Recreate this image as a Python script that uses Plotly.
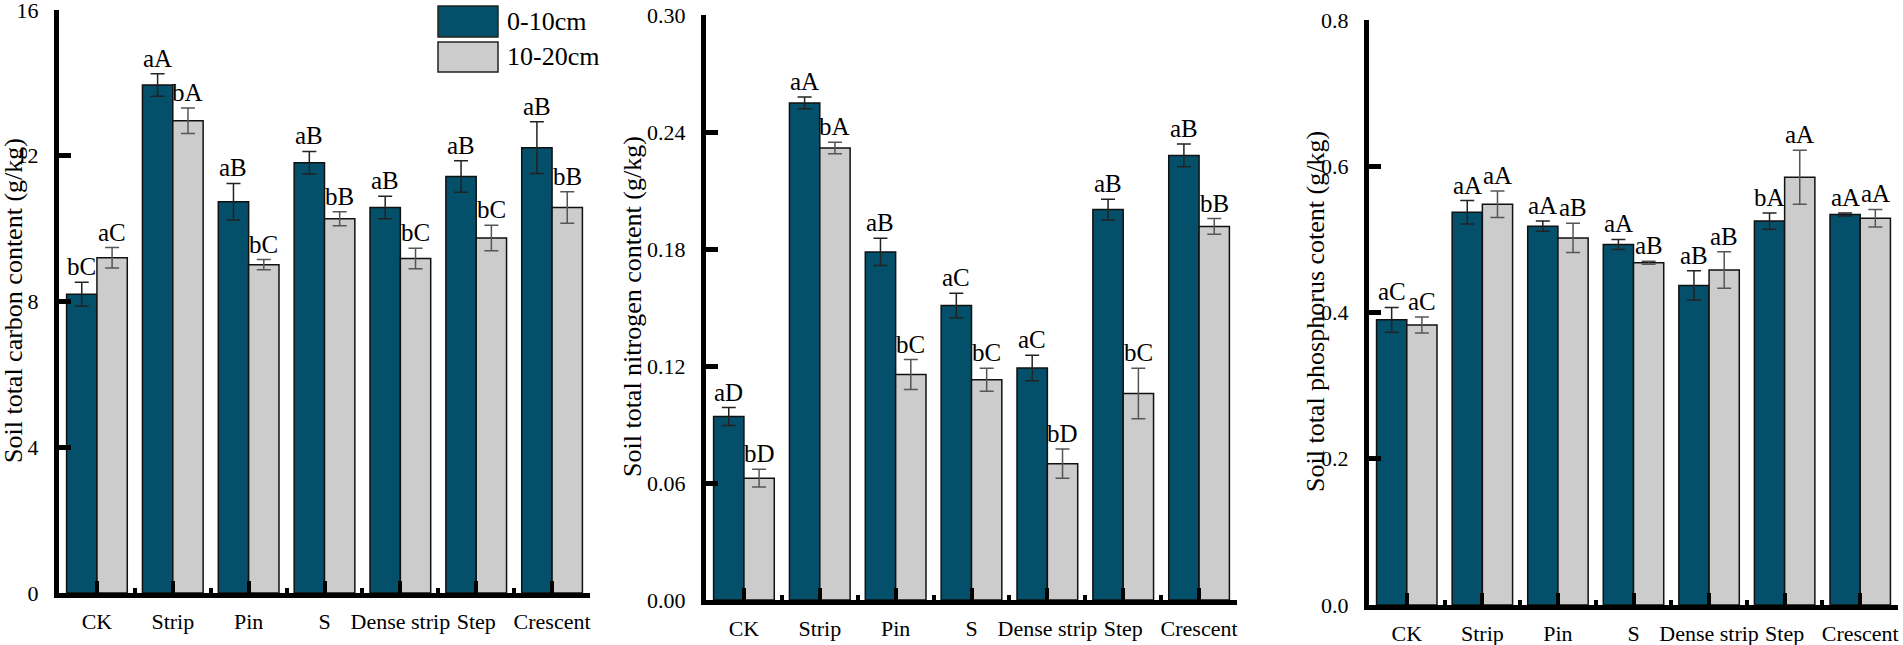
import plotly.graph_objects as go

categories = ["CK", "Strip", "Pin", "S", "Dense strip", "Step", "Crescent"]
series_names = ["0-10cm", "10-20cm"]

carbon_0_10 = [8.20, 13.94, 10.74, 11.81, 10.58, 11.43, 12.22]
carbon_0_10_err = [0.33, 0.31, 0.50, 0.31, 0.31, 0.43, 0.71]
carbon_10_20 = [9.20, 12.96, 9.01, 10.27, 9.18, 9.74, 10.58]
carbon_10_20_err = [0.28, 0.35, 0.14, 0.19, 0.28, 0.35, 0.43]
carbon_lbl_0_10 = ["bC", "aA", "aB", "aB", "aB", "aB", "aB"]
carbon_lbl_10_20 = ["aC", "bA", "bC", "bB", "bC", "bC", "bB"]

nitrogen_0_10 = [0.0941, 0.2549, 0.1785, 0.1510, 0.1190, 0.2002, 0.2280]
nitrogen_0_10_err = [0.0046, 0.0030, 0.0070, 0.0063, 0.0065, 0.0053, 0.0058]
nitrogen_10_20 = [0.0625, 0.2318, 0.1156, 0.1130, 0.0699, 0.1059, 0.1916]
nitrogen_10_20_err = [0.0046, 0.0030, 0.0077, 0.0059, 0.0075, 0.0130, 0.0040]
nitrogen_lbl_0_10 = ["aD", "aA", "aB", "aC", "aC", "aB", "aB"]
nitrogen_lbl_10_20 = ["bD", "bA", "bC", "bC", "bD", "bC", "bB"]

phos_0_10 = [0.390, 0.537, 0.518, 0.493, 0.437, 0.525, 0.534]
phos_0_10_err = [0.017, 0.016, 0.007, 0.007, 0.020, 0.011, 0.002]
phos_10_20 = [0.383, 0.548, 0.502, 0.468, 0.458, 0.585, 0.529]
phos_10_20_err = [0.011, 0.018, 0.020, 0.002, 0.025, 0.037, 0.012]
phos_lbl_0_10 = ["aC", "aA", "aA", "aA", "aB", "bA", "aA"]
phos_lbl_10_20 = ["aC", "aA", "aB", "aB", "aB", "aA", "aA"]

y_titles = ["Soil total carbon content (g/kg)",
            "Soil total nitrogen content (g/kg)",
            "Soil total phosphorus cotent (g/kg)"]
y_ranges = [[0, 16], [0, 0.30], [0, 0.8]]
y_dticks = [4, 0.06, 0.2]
y_formats = ["d", ".2f", ".1f"]

DARK = "#04506A"
GRAY = "#CCCCCC"
FONT = "Times New Roman, Liberation Serif, DejaVu Serif, serif"
W, H = 1903, 645

x_dom = [[59, 590], [706, 1237], [1369, 1898]]
y_dom = [[10, 593], [15, 600], [20, 605]]
title_pos = [[13, 301], [632, 307], [1315, 312]]

panels = [
    (carbon_0_10, carbon_0_10_err, carbon_10_20, carbon_10_20_err, carbon_lbl_0_10, carbon_lbl_10_20),
    (nitrogen_0_10, nitrogen_0_10_err, nitrogen_10_20, nitrogen_10_20_err, nitrogen_lbl_0_10, nitrogen_lbl_10_20),
    (phos_0_10, phos_0_10_err, phos_10_20, phos_10_20_err, phos_lbl_0_10, phos_lbl_10_20),
]

xs = list(range(len(categories)))
fig = go.Figure()
annotations = []
layout_axes = {}

bargap = 0.2
bw = (1 - bargap) / 2

for p, (v1, e1, v2, e2, l1, l2) in enumerate(panels):
    sfx = "" if p == 0 else str(p + 1)
    xref, yref = "x" + sfx, "y" + sfx
    for vals, errs, col, ecol, name, og, lbls, off in [
        (v1, e1, DARK, "#222222", series_names[0], "a", l1, -bw / 2),
        (v2, e2, GRAY, "#555555", series_names[1], "b", l2, bw / 2),
    ]:
        fig.add_trace(go.Bar(
            x=xs, y=vals, name=name, offsetgroup=og, xaxis=xref, yaxis=yref,
            marker=dict(color=col, line=dict(color="#111111", width=1.5)),
            error_y=dict(type="data", array=errs, color=ecol, thickness=1.5, width=7),
            showlegend=False,
        ))
        for i in xs:
            annotations.append(dict(
                x=i + off, y=vals[i] + errs[i], xref=xref, yref=yref,
                text=lbls[i], showarrow=False, yanchor="bottom", xanchor="center",
                yshift=0, font=dict(family=FONT, size=25, color="black"),
            ))
    layout_axes["xaxis" + sfx] = dict(
        domain=[x_dom[p][0] / W, x_dom[p][1] / W],
        anchor=yref, range=[-0.5, len(categories) - 0.5], automargin=False,
        tickvals=xs, ticktext=categories, tickangle=0, ticklabeloverflow="allow",
        ticks="inside", ticklen=12, tickwidth=4, tickcolor="black",
        minor=dict(ticks="inside", tick0=0.5, dtick=1, ticklen=5, tickwidth=4, tickcolor="black"),
        showline=True, linewidth=5, linecolor="black", showgrid=False, zeroline=False,
        tickfont=dict(family=FONT, size=22, color="black"), ticklabelstandoff=5, fixedrange=True,
    )
    layout_axes["yaxis" + sfx] = dict(
        domain=[1 - y_dom[p][1] / H, 1 - y_dom[p][0] / H],
        anchor=xref, range=y_ranges[p], dtick=y_dticks[p], tick0=0, tickformat=y_formats[p],
        automargin=False, ticklabeloverflow="allow",
        ticks="inside", ticklen=12, tickwidth=5, tickcolor="black",
        showline=True, linewidth=5, linecolor="black", showgrid=False, zeroline=False,
        tickfont=dict(family=FONT, size=22, color="black"), ticklabelstandoff=11, fixedrange=True,
    )
    annotations.append(dict(
        x=title_pos[p][0] / W, y=1 - title_pos[p][1] / H, xref="paper", yref="paper",
        text=y_titles[p], textangle=-90, showarrow=False, xanchor="center", yanchor="middle",
        font=dict(family=FONT, size=26, color="black"),
    ))

# legend drawn in panel 1 upper right
shapes = []
legend_boxes = [(6, 37, DARK), (42, 72, GRAY)]
for (top, bot, col), name in zip(legend_boxes, series_names):
    shapes.append(dict(type="rect", xref="paper", yref="paper",
                       x0=438 / W, x1=498 / W, y0=1 - bot / H, y1=1 - top / H,
                       fillcolor=col, line=dict(color="#222222", width=1.5)))
    annotations.append(dict(x=505 / W, y=1 - (top + bot) / 2 / H, xref="paper", yref="paper",
                            text=name, showarrow=False, xanchor="left", yanchor="middle",
                            font=dict(family=FONT, size=26, color="black")))

fig.update_layout(
    width=W, height=H, margin=dict(l=0, r=0, t=0, b=0, autoexpand=False),
    paper_bgcolor="white", plot_bgcolor="white",
    barmode="group", bargap=bargap, bargroupgap=0,
    annotations=annotations, shapes=shapes, showlegend=False,
    font=dict(family=FONT, size=22, color="black"),
    **layout_axes,
)

fig.write_html(
    "out.html",
    config={"displayModeBar": False, "staticPlot": True},
    post_script="document.body.style.margin='0';document.body.style.overflow='hidden';",
)
